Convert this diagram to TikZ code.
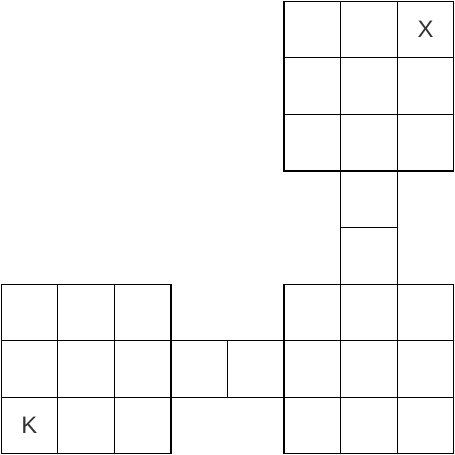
\documentclass[tikz,border=0pt]{standalone}
\usepackage{fontspec}
\setmainfont{Liberation Sans}
\definecolor{txt}{HTML}{333333}
\begin{document}
\begin{tikzpicture}[x=1cm,y=-1cm,
  cell/.style={draw=black,line width=0.6pt,minimum size=1cm,inner sep=0pt,outer sep=0pt,anchor=north west,text=txt,font=\fontsize{12}{14}\selectfont}]
\useasboundingbox (-0.02,-0.02) rectangle (8.02,8.02);
% top-right block
\foreach \c in {5,6,7}{\foreach \r in {0,1,2}{\node[cell] (t\c\r) at (\c,\r) {};}}
% connector column
\node[cell] (v3) at (6,3) {};
\node[cell] (v4) at (6,4) {};
% bottom-right block
\foreach \c in {5,6,7}{\foreach \r in {5,6,7}{\node[cell] (b\c\r) at (\c,\r) {};}}
% bottom-left block
\foreach \c in {0,1,2}{\foreach \r in {5,6,7}{\node[cell] (l\c\r) at (\c,\r) {};}}
% connector row
\node[cell] (h3) at (3,6) {};
\node[cell] (h4) at (4,6) {};
% labels
\node[text=txt,font=\fontsize{12}{14}\selectfont] (X) at (t70.center) {X};
\node[text=txt,font=\fontsize{12}{14}\selectfont] (K) at (l07.center) {K};
\end{tikzpicture}
\end{document}
